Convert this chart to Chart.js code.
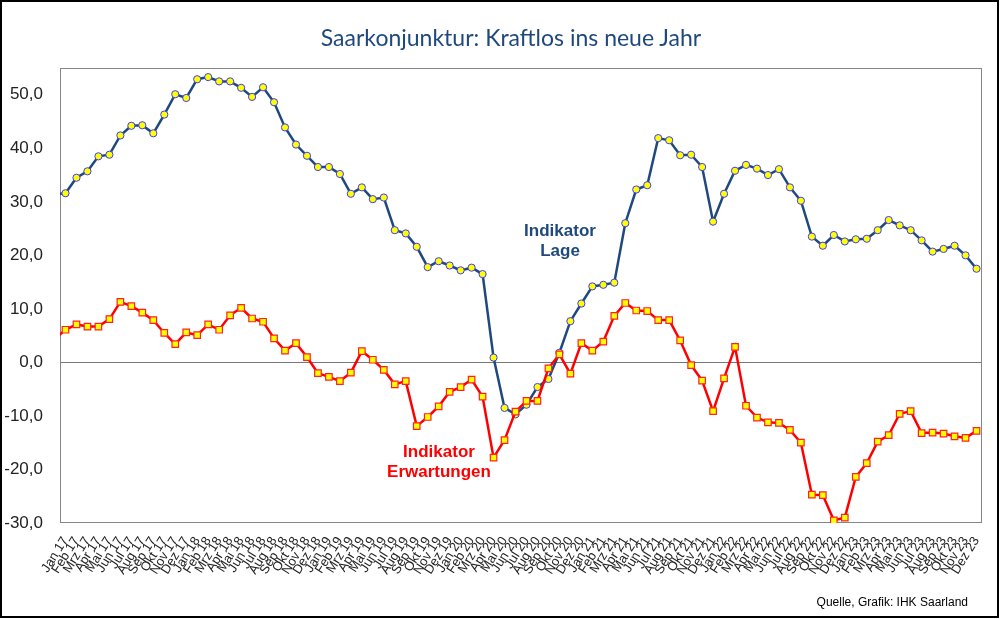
<!DOCTYPE html>
<html>
<head>
<meta charset="utf-8">
<script src="https://cdn.jsdelivr.net/npm/chart.js@4.4.1/dist/chart.umd.min.js"></script>
<style>
body { margin: 0; background: #fff; }
#wrap { position: relative; width: 1000px; height: 619px; overflow: hidden; background: #fff; }
#frame { position: absolute; left: 0; top: 0; width: 999px; height: 618px; box-sizing: border-box; border: 2px solid #000; pointer-events: none; }
.txt { position: absolute; white-space: nowrap; font-family: "Liberation Sans", Arial, sans-serif; }
#title { left: 0; top: 20px; width: 1022px; text-align: center; font-family: Lato, "Noto Sans", sans-serif; font-size: 23px; line-height: 34px; color: #1F497D; }
#lage { left: 500px; top: 221px; width: 120px; text-align: center; font-weight: bold; font-size: 17px; line-height: 20px; color: #1F497D; }
#erw { left: 369px; top: 442px; width: 140px; text-align: center; font-weight: bold; font-size: 17px; line-height: 20px; color: #FF0000; }
#quelle { right: 32px; top: 595px; font-size: 12px; line-height: 14px; color: #000; }
</style>
</head>
<body>
<div id="wrap">
  <canvas id="myChart"></canvas>
  <div class="txt" id="title">Saarkonjunktur: Kraftlos ins neue Jahr</div>
  <div class="txt" id="lage">Indikator<br>Lage</div>
  <div class="txt" id="erw">Indikator<br>Erwartungen</div>
  <div class="txt" id="quelle">Quelle, Grafik: IHK Saarland</div>
  <div id="frame"></div>
</div>
<script>
// month names and years for the category axis (first entry Dez 16 only feeds the line that runs in from the left edge)
const months = ['Jan', 'Feb', 'Mrz', 'Apr', 'Mai', 'Jun', 'Jul', 'Aug', 'Sep', 'Okt', 'Nov', 'Dez']
const years = ['17', '18', '19', '20', '21', '22', '23']
const yTicks = [-30, -20, -10, 0, 10, 20, 30, 40, 50]

const lage = [
    31.4,
    31.6, 34.5, 35.7, 38.5, 38.8, 42.4, 44.2, 44.3, 42.8, 46.3, 50.1, 49.4,
    52.9, 53.3, 52.5, 52.5, 51.3, 49.6, 51.4, 48.6, 43.9, 40.7, 38.6, 36.5,
    36.5, 35.2, 31.5, 32.7, 30.5, 30.8, 24.7, 24.1, 21.6, 17.8, 18.9, 18.1,
    17.2, 17.7, 16.5, 0.9, -8.5, -9.7, -7.9, -4.6, -3.1, 1.8, 7.7, 11.0,
    14.2, 14.5, 14.9, 26.0, 32.3, 33.1, 41.9, 41.5, 38.7, 38.8, 36.5, 26.3,
    31.5, 35.8, 36.9, 36.2, 35.0, 36.1, 32.7, 30.2, 23.5, 21.8, 23.8, 22.6,
    23.0, 23.1, 24.7, 26.6, 25.6, 24.7, 22.8, 20.7, 21.2, 21.8, 20.0, 17.5
]

const erwartungen = [
    4.4,
    6.1, 7.1, 6.7, 6.7, 8.1, 11.3, 10.5, 9.3, 7.9, 5.5, 3.4, 5.6,
    5.1, 7.1, 6.1, 8.8, 10.2, 8.2, 7.6, 4.5, 2.2, 3.6, 1.0, -2.0,
    -2.7, -3.5, -1.9, 2.1, 0.5, -1.4, -4.1, -3.5, -11.9, -10.2, -8.2, -5.5,
    -4.6, -3.2, -6.4, -17.8, -14.5, -9.2, -7.2, -7.2, -1.1, 1.5, -2.1, 3.6,
    2.2, 3.9, 8.7, 11.1, 9.7, 9.6, 7.9, 7.9, 4.1, -0.5, -3.4, -9.1,
    -3.0, 2.9, -8.1, -10.3, -11.2, -11.3, -12.6, -15.0, -24.7, -24.8, -29.5, -29.0,
    -21.4, -18.8, -14.8, -13.6, -9.6, -9.1, -13.2, -13.1, -13.3, -13.8, -14.1, -12.8
]

const labels = ['Dez 16']
years.forEach(y => months.forEach(m => labels.push(m + ' ' + y)))

// grey box round the plot area
const plotFrame = {
    id: 'plotFrame',
    beforeDatasetsDraw(chart) {
        const {ctx, chartArea: a} = chart
        ctx.save()
        ctx.strokeStyle = '#868686'
        ctx.lineWidth = 1
        ctx.strokeRect(a.left + 0.5, a.top + 0.5, a.width - 1, a.height - 1)
        ctx.restore()
    }
}

const hideFirst = r => ctx => ctx.dataIndex === 0 ? 0 : r

new Chart(document.getElementById('myChart'), {
    type: 'line',
    data: {
        labels: labels,
        datasets: [{
            label: 'Indikator Lage',
            data: lage,
            order: 1,
            borderColor: '#1F497D',
            borderWidth: 2.5,
            tension: 0,
            pointStyle: 'circle',
            pointRadius: hideFirst(3.6),
            pointBackgroundColor: '#FFFF00',
            pointBorderColor: '#3A3AFF',
            pointBorderWidth: 1
        }, {
            label: 'Indikator Erwartungen',
            data: erwartungen,
            order: 0,
            borderColor: '#FF0000',
            borderWidth: 2.5,
            tension: 0,
            pointStyle: 'rect',
            pointRadius: hideFirst(4.6),
            pointBackgroundColor: '#FFFF00',
            pointBorderColor: '#FF2020',
            pointBorderWidth: 1.2
        }]
    },
    options: {
        responsive: true,
        maintainAspectRatio: false,
        animation: false,
        layout: { padding: { left: 0, top: 68, right: 18, bottom: 0 } },
        plugins: {
            legend: { display: false },
            tooltip: { enabled: false },
            title: { display: false }
        },
        scales: {
            x: {
                type: 'category',
                min: 'Jan 17',
                offset: true,
                grid: { display: false },
                border: { display: false },
                ticks: {
                    autoSkip: false,
                    minRotation: 58,
                    maxRotation: 58,
                    padding: 3,
                    color: '#222',
                    font: { family: 'Liberation Sans', size: 13 }
                },
                afterFit: s => { s.height = 96 }
            },
            y: {
                min: -30,
                max: 55,
                bounds: 'data',
                border: { display: false },
                afterBuildTicks: s => { s.ticks = yTicks.map(v => ({ value: v })) },
                grid: {
                    drawTicks: false,
                    color: ctx => ctx.tick && ctx.tick.value === 0 ? '#777' : 'transparent',
                    lineWidth: 1
                },
                ticks: {
                    padding: 17,
                    color: '#222',
                    font: { family: 'Liberation Sans', size: 17 },
                    callback: v => v.toFixed(1).replace('.', ',')
                },
                afterFit: s => { s.width = 60 }
            }
        }
    },
    plugins: [plotFrame]
})
</script>
</body>
</html>
